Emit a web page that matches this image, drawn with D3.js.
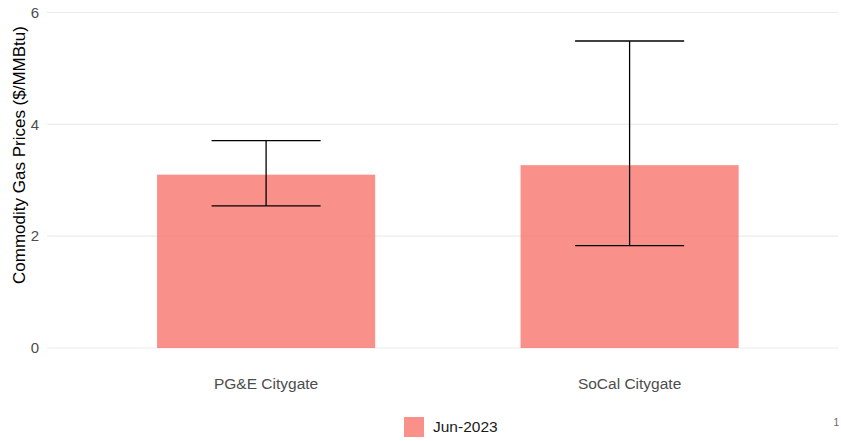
<!DOCTYPE html>
<html><head><meta charset="utf-8">
<script src="https://cdn.jsdelivr.net/npm/d3@7"></script>
<style>body{margin:0;background:#fff}svg{display:block;font-family:"Liberation Sans",Arial,sans-serif}</style>
</head><body><svg id="c" width="841" height="441"></svg>
<script>
const categories = ["PG&E Citygate", "SoCal Citygate"];
const values = [3.10, 3.27];
const lows = [2.54, 1.83];
const highs = [3.71, 5.49];
const yTicks = [0, 2, 4, 6];
const seriesName = "Jun-2023";

const svg = d3.select("#c");
const left = 47, right = 838;
const y = d3.scaleLinear().domain([0, 6]).range([348, 12.5]);
const x = d3.scaleBand().domain(categories).range([48, 847.7]).paddingInner(0.4).paddingOuter(0.3);
const bw = x.bandwidth();

// gridlines
svg.append("g").selectAll("line").data(yTicks).join("line")
  .attr("x1", left).attr("x2", right)
  .attr("y1", d => y(d)).attr("y2", d => y(d))
  .attr("stroke", "#ebebeb").attr("stroke-width", 1.1);

// y tick labels
svg.append("g").selectAll("text").data(yTicks).join("text")
  .attr("x", 39).attr("y", d => y(d)).attr("dy", "0.35em")
  .attr("text-anchor", "end").attr("fill", "#4d4d4d").attr("font-size", 15)
  .text(d => d);

// bars
svg.append("g").selectAll("rect").data(categories).join("rect")
  .attr("x", d => x(d)).attr("width", bw)
  .attr("y", (d, i) => y(values[i])).attr("height", (d, i) => y(0) - y(values[i]))
  .attr("fill", "#F8766D").attr("fill-opacity", 0.8);

// error bars
const eb = svg.append("g").attr("stroke", "#000").attr("stroke-width", 1.3);
categories.forEach((c, i) => {
  const cx = x(c) + bw / 2, hw = bw / 4;
  eb.append("line").attr("x1", cx).attr("x2", cx).attr("y1", y(highs[i])).attr("y2", y(lows[i]));
  eb.append("line").attr("x1", cx - hw).attr("x2", cx + hw).attr("y1", y(highs[i])).attr("y2", y(highs[i]));
  eb.append("line").attr("x1", cx - hw).attr("x2", cx + hw).attr("y1", y(lows[i])).attr("y2", y(lows[i]));
});

// x labels
svg.append("g").selectAll("text").data(categories).join("text")
  .attr("x", d => x(d) + bw / 2).attr("y", 389)
  .attr("text-anchor", "middle").attr("fill", "#4d4d4d").attr("font-size", 15.5)
  .text(d => d);

// y title
svg.append("text").attr("transform", "translate(25,155) rotate(-90)")
  .attr("text-anchor", "middle").attr("fill", "#000").attr("font-size", 17)
  .text("Commodity Gas Prices ($/MMBtu)");

// legend
svg.append("rect").attr("x", 404).attr("y", 417).attr("width", 20).attr("height", 20)
  .attr("fill", "#F8766D").attr("fill-opacity", 0.8);
svg.append("text").attr("x", 433).attr("y", 427).attr("dy", "0.35em")
  .attr("fill", "#1a1a1a").attr("font-size", 15.5).text(seriesName);

// footnote
svg.append("text").attr("x", 839).attr("y", 426).attr("text-anchor", "end")
  .attr("fill", "#666").attr("font-size", 10).text("1");
</script></body></html>
